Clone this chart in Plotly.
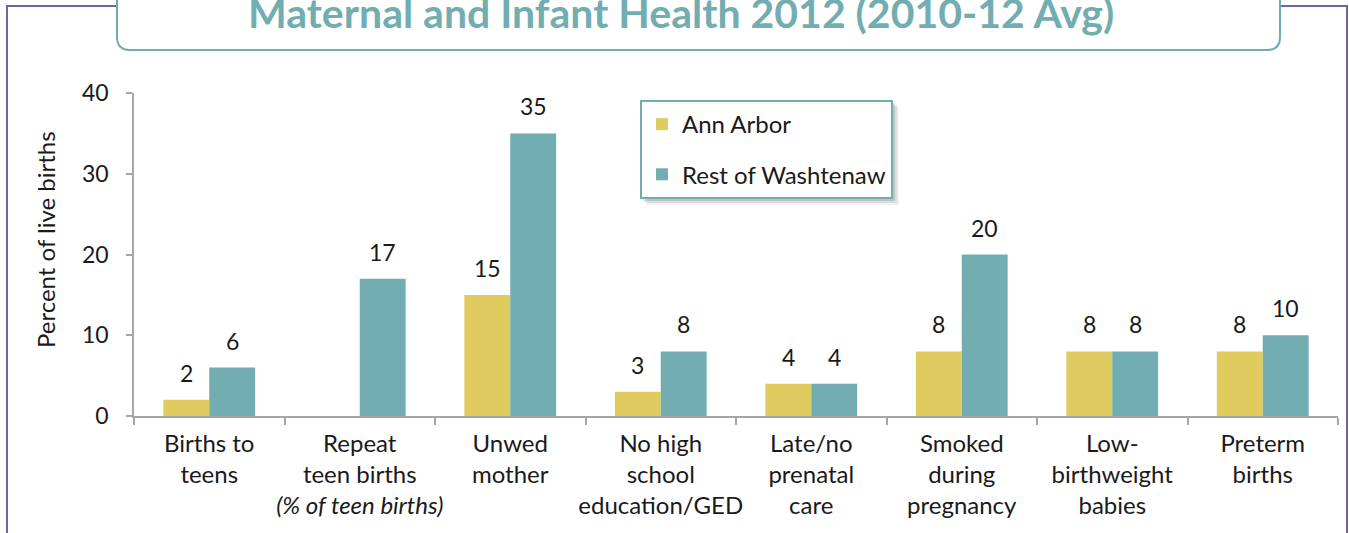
import plotly.graph_objects as go

categories = [
    "Births to<br>teens",
    "Repeat<br>teen births<br><i>(% of teen births)</i>",
    "Unwed<br>mother",
    "No high<br>school<br>education/GED",
    "Late/no<br>prenatal<br>care",
    "Smoked<br>during<br>pregnancy",
    "Low-<br>birthweight<br>babies",
    "Preterm<br>births",
]
ann_arbor = [2, None, 15, 3, 4, 8, 8, 8]
rest_washtenaw = [6, 17, 35, 8, 4, 20, 8, 10]
y_ticks = [0, 10, 20, 30, 40]

YELLOW = "#DFCB5E"
TEAL = "#72ADB1"
PURPLE = "#6B65A6"
TXT = "#1a1a1a"
FONT = "Lato"

W, H = 1349, 533
PLOT_L, PLOT_R, PLOT_T, PLOT_B = 134, 1338, 93, 416   # screen pixels
ML, MT = PLOT_L, PLOT_T
PW, PH = PLOT_R - PLOT_L, PLOT_B - PLOT_T
MR, MB = W - ML - PW, H - MT - PH


def sx(x):
    return (x - PLOT_L) / PW


def sy(y):
    return (PLOT_B - y) / PH


xs = list(range(len(categories)))
bargap = 0.39
half = (1 - bargap) / 4

fig = go.Figure()
fig.add_trace(go.Bar(x=xs, y=ann_arbor, name="Ann Arbor", marker_color=YELLOW,
                     legendgroup="a", marker_line_width=0))
fig.add_trace(go.Bar(x=xs, y=rest_washtenaw, name="Rest of Washtenaw", marker_color=TEAL,
                     legendgroup="b", marker_line_width=0))

annotations = []
for series, sign in ((ann_arbor, -1), (rest_washtenaw, 1)):
    for i, v in enumerate(series):
        if v is not None:
            annotations.append(dict(x=i + sign * half, y=v, xref="x", yref="y", text=str(v),
                                    showarrow=False, yanchor="bottom", yshift=11,
                                    font=dict(family=FONT, size=23, color=TXT)))

# axis title
annotations.append(dict(x=sx(45), y=sy(240), xref="paper", yref="paper",
                        text="Percent of live births", textangle=-90, showarrow=False,
                        xanchor="center", yanchor="middle",
                        font=dict(family=FONT, size=24, color=TXT)))
# title
annotations.append(dict(x=sx(681), y=sy(27), xref="paper", yref="paper",
                        text="<b>Maternal and Infant Health 2012 (2010-12 Avg)</b>",
                        showarrow=False, xanchor="center", yanchor="bottom",
                        yshift=-12,
                        font=dict(family=FONT, size=41, color=TEAL)))

shapes = []
# purple frame
shapes.append(dict(type="path", xref="paper", yref="paper",
                   path=f"M {sx(117)},{sy(6)} L {sx(7)},{sy(6)} L {sx(7)},{sy(540)}",
                   line=dict(color=PURPLE, width=2)))
shapes.append(dict(type="path", xref="paper", yref="paper",
                   path=f"M {sx(1280)},{sy(6)} L {sx(1347)},{sy(6)} L {sx(1347)},{sy(540)}",
                   line=dict(color=PURPLE, width=2)))
# rounded title box
r = 13
L, R, B, T = 117, 1280, 50, -20
path = (f"M {sx(L)},{sy(T)} L {sx(L)},{sy(B - r)} "
        f"Q {sx(L)},{sy(B)} {sx(L + r)},{sy(B)} "
        f"L {sx(R - r)},{sy(B)} Q {sx(R)},{sy(B)} {sx(R)},{sy(B - r)} "
        f"L {sx(R)},{sy(T)}")
shapes.append(dict(type="path", xref="paper", yref="paper", path=path,
                   line=dict(color=TEAL, width=2), fillcolor="white"))
# legend shadow (soft)
LG_L, LG_R, LG_T, LG_B = 640, 892, 100, 198
for d, a in ((7, 0.10), (5, 0.15), (3, 0.22)):
    shapes.append(dict(type="rect", xref="paper", yref="paper",
                       x0=sx(LG_L + d), x1=sx(LG_R + d), y0=sy(LG_T + d), y1=sy(LG_B + d),
                       line=dict(width=0), fillcolor=f"rgba(110,110,110,{a})"))

fig.update_layout(
    width=W, height=H,
    margin=dict(l=ML, r=MR, t=MT, b=MB, pad=0, autoexpand=False),
    paper_bgcolor="white", plot_bgcolor="white",
    barmode="group", bargap=bargap, bargroupgap=0,
    font=dict(family=FONT, size=24, color=TXT),
    showlegend=True,
    legend=dict(x=sx(LG_L), y=sy(LG_T), xanchor="left", yanchor="top",
                bgcolor="white", bordercolor=TEAL, borderwidth=2,
                font=dict(family=FONT, size=24, color=TXT),
                traceorder="grouped", tracegroupgap=16, itemwidth=30),
    annotations=annotations,
    shapes=shapes,
)
fig.update_xaxes(
    range=[-0.5, len(categories) - 0.5],
    tickvals=xs, ticktext=categories, ticks="",
    showline=True, linecolor="#A6A6A6", linewidth=1.5,
    showgrid=False, zeroline=False, automargin=False,
    tickfont=dict(family=FONT, size=24, color=TXT),
    minor=dict(tickvals=[i - 0.5 for i in range(len(categories) + 1)],
               ticks="outside", ticklen=7, tickcolor="#A6A6A6", tickwidth=1.5),
    ticklabelstandoff=5,
)
fig.update_yaxes(
    range=[0, 40], tickvals=y_ticks,
    showline=True, linecolor="#A6A6A6", linewidth=1.5,
    ticks="outside", ticklen=6, tickcolor="#A6A6A6", tickwidth=1.5,
    showgrid=False, zeroline=False, automargin=False,
    tickfont=dict(family=FONT, size=23, color=TXT),
    ticklabelstandoff=13,
)

fig.write_html(
    "out.html",
    config={"displayModeBar": False},
    post_script="document.body.style.margin='0';document.body.style.overflow='hidden';",
)
